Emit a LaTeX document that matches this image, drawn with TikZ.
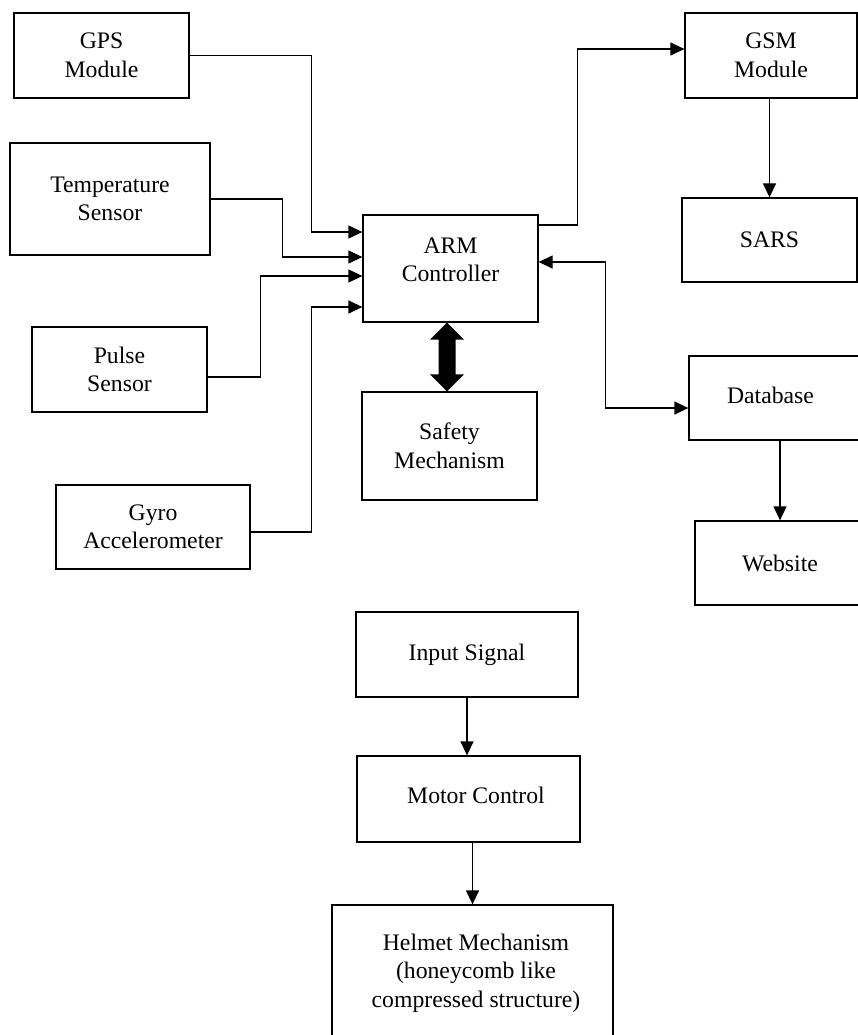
\documentclass[tikz,border=0pt]{standalone}
\usepackage{fontspec}
\setmainfont{Liberation Serif}
\usetikzlibrary{arrows.meta,calc}
\begin{document}
\begin{tikzpicture}[x=1pt,y=-1pt,
  txt/.style={align=center,font=\fontsize{23.7}{28.5}\selectfont,inner sep=0pt},
  box/.style={draw,line width=1.3pt,rectangle,inner sep=0pt,txt},
  arr/.style={line width=1.3pt,-{Triangle[length=14pt,width=13pt]}},
  dbl/.style={line width=1.3pt,{Triangle[length=14pt,width=13pt]}-{Triangle[length=14pt,width=13pt]}},
  plain/.style={line width=1.3pt}]
\useasboundingbox (0,0) rectangle (858,1035);
\clip (0,0) rectangle (858,1035);
% left column
\node[box,minimum width=175pt,minimum height=85pt] (gps) at (101.5,55.5) {GPS\\Module};
\node[box,minimum width=200pt,minimum height=112pt] (temp) at (110,199) {Temperature\\Sensor};
\node[box,minimum width=175pt,minimum height=85pt] (pulse) at (119.5,369.5) {Pulse\\Sensor};
\node[box,minimum width=194pt,minimum height=84pt] (gyro) at (153,527) {Gyro\\Accelerometer};
% centre
\node[box,minimum width=175pt,minimum height=107pt,label={[txt,yshift=8.5pt]center:{ARM\\Controller}}] (arm) at (450.5,268.5) {};
\node[box,minimum width=175pt,minimum height=108pt] (safety) at (449.5,446) {Safety\\Mechanism};
% right column
\node[box,minimum width=172pt,minimum height=85pt] (gsm) at (771,55.5) {GSM\\Module};
\node[box,minimum width=175pt,minimum height=84pt] (sars) at (769.5,240) {SARS};
\node[box,minimum width=182pt,minimum height=84pt,label={[txt,xshift=-9.5pt,yshift=3pt]center:Database}] (db) at (780,398) {};
\node[box,minimum width=170pt,minimum height=84pt] (web) at (780,563) {Website};
% bottom chain
\node[box,minimum width=222pt,minimum height=85pt] (input) at (467,654.5) {Input Signal};
\node[box,minimum width=223pt,minimum height=86pt,label={[txt,xshift=7.5pt,yshift=4pt]center:Motor Control}] (motor) at (468.5,799) {};
\node[box,minimum width=281pt,minimum height=136pt,label={[txt,xshift=3.5pt]center:{Helmet Mechanism\\(honeycomb like\\compressed structure)}}] (helmet) at (472.5,973) {};
% inputs to ARM
\draw[arr] (gps.east) -- ++(122,0) |- ([yshift=36.5pt]arm.west);
\draw[arr] (temp.east) -- ++(72,0) |- ([yshift=11.5pt]arm.west);
\draw[arr] ([yshift=-7.5pt]pulse.east) -- ++(53,0) |- ([yshift=-7.5pt]arm.west);
\draw[arr] ([yshift=-5pt]gyro.east) -- ++(61,0) |- ([yshift=-38.5pt]arm.west);
% outputs
\draw[arr] ([yshift=43.5pt]arm.east) -- ++(39,0) |- ([yshift=6.5pt]gsm.west);
\draw[dbl] ([yshift=6.5pt]arm.east) -- ++(67,0) |- ([yshift=-10pt]db.west);
\draw[arr] (sars.north |- gsm.south) -- (sars.north);
\draw[arr] (web.north |- db.south) -- (web.north);
\draw[arr] (input.south) -- (input.south |- motor.north);
\draw[arr] (helmet.north |- motor.south) -- (helmet.north);
% thick double arrow ARM <-> Safety
\coordinate (ta) at ([xshift=-3.5pt]arm.south);
\coordinate (tb) at (ta |- safety.north);
\fill (ta) -- ($(ta)+(17,17)$) -- ($(ta)+(8.5,17)$) -- ($(tb)+(8.5,-17)$) -- ($(tb)+(17,-17)$) -- (tb)
  -- ($(tb)+(-17,-17)$) -- ($(tb)+(-8.5,-17)$) -- ($(ta)+(-8.5,17)$) -- ($(ta)+(-17,17)$) -- cycle;
\end{tikzpicture}
\end{document}
